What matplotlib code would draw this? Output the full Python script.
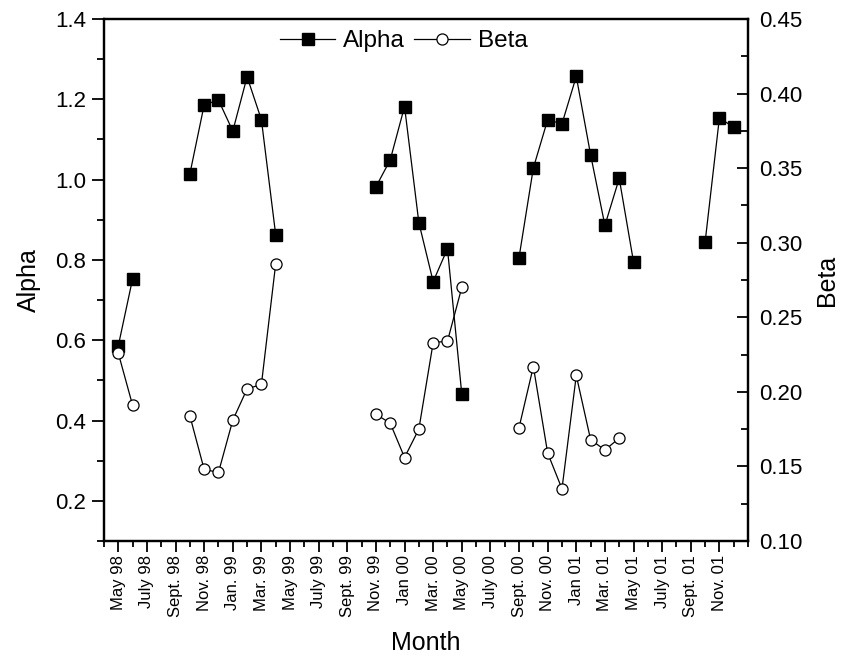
import numpy as np
import matplotlib
matplotlib.use("Agg")
import matplotlib.pyplot as plt
from matplotlib.ticker import MultipleLocator

plt.rcParams['font.family'] = ['Liberation Sans', 'DejaVu Sans']

nan = np.nan
# month index 0 = May 98 ... 43 = Dec 01
months = np.arange(44)
alpha = [0.586, 0.753, nan, nan, nan, 1.014, 1.186, 1.198, 1.121, 1.256, 1.149, 0.862,
         nan, nan, nan, nan, nan, nan, 0.982, 1.049, 1.182, 0.893, 0.746, 0.828, 0.466,
         nan, nan, nan, 0.806, 1.029, 1.149, 1.139, 1.257, 1.062, 0.886, 1.003, 0.795,
         nan, nan, nan, nan, 0.844, 1.154, 1.130]
beta = [0.226, 0.191, nan, nan, nan, 0.184, 0.148, 0.146, 0.181, 0.202, 0.205, 0.286,
        nan, nan, nan, nan, nan, nan, 0.185, 0.179, 0.156, 0.175, 0.233, 0.234, 0.270,
        nan, nan, nan, 0.176, 0.217, 0.159, 0.135, 0.211, 0.168, 0.161, 0.169,
        nan, nan, nan, nan, nan, nan, nan, nan]
tick_labels = ["May 98", "July 98", "Sept. 98", "Nov. 98", "Jan. 99", "Mar. 99",
               "May 99", "July 99", "Sept. 99", "Nov. 99", "Jan 00", "Mar. 00",
               "May 00", "July 00", "Sept. 00", "Nov. 00", "Jan 01", "Mar. 01",
               "May 01", "July 01", "Sept. 01", "Nov. 01"]

fig = plt.figure(figsize=(8.46, 6.64), dpi=100)
ax = fig.add_axes([0.1229, 0.1852, 0.7613, 0.7862])
ax2 = ax.twinx()

l1, = ax.plot(months, alpha, color='black', lw=0.9, marker='s', ms=8.5,
              mfc='black', mec='black', label='Alpha')
l2, = ax2.plot(months, beta, color='black', lw=0.9, marker='o', ms=8,
               mfc='white', mec='black', mew=0.9, label='Beta')

ax.set_xlim(-1, 44)
ax.set_ylim(0.1, 1.4)
ax2.set_ylim(0.10, 0.45)

ax.set_xticks(np.arange(0, 43, 2))
ax.set_xticklabels(tick_labels, rotation=90, fontsize=12)
ax.xaxis.set_minor_locator(MultipleLocator(1))
ax.set_yticks(np.arange(0.2, 1.41, 0.2))
ax.yaxis.set_minor_locator(MultipleLocator(0.1))
ax2.yaxis.set_minor_locator(MultipleLocator(0.025))
ax2.set_yticks(np.arange(0.10, 0.451, 0.05))
ax2.set_yticklabels(["%.2f" % v for v in np.arange(0.10, 0.451, 0.05)])

ax.tick_params(axis='x', which='major', direction='out', length=8, width=1.3, pad=2)
ax.tick_params(axis='x', which='minor', direction='out', length=4.5, width=1.3)
ax.tick_params(axis='y', which='major', direction='out', length=9, width=1.3, labelsize=16, pad=4)
ax.tick_params(axis='y', which='minor', direction='out', length=5, width=1.3)
ax2.tick_params(axis='y', which='major', direction='in', length=8, width=1.3, labelsize=16, pad=8)
ax2.tick_params(axis='y', which='minor', direction='in', length=5, width=1.3)

for a in (ax, ax2):
    for s in a.spines.values():
        s.set_linewidth(1.6)

ax.set_xlabel('Month', fontsize=18, labelpad=10)
ax.set_ylabel('Alpha', fontsize=18, labelpad=10)
ax2.set_ylabel('Beta', fontsize=18, labelpad=9)

ax2.legend([l1, l2], ['Alpha', 'Beta'], loc='upper center', bbox_to_anchor=(0.465, 1.02),
           ncol=2, frameon=False, fontsize=17.5, handlelength=2.3, handletextpad=0.3,
           columnspacing=0.4)

fig.savefig('out.png', dpi=100)
